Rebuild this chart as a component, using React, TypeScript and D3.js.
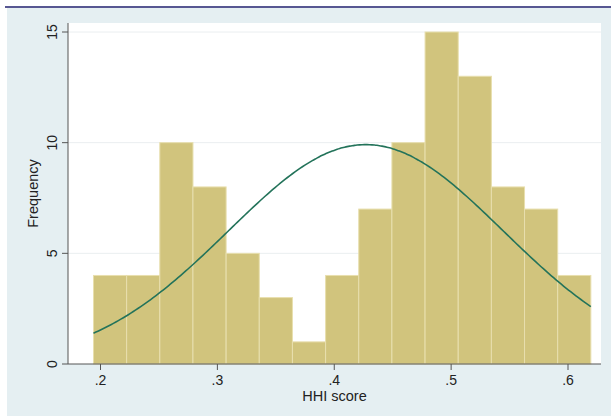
import React from "react";
import * as d3 from "d3";

const binStart = 0.194;
const binWidth = 0.02837;
const frequencies = [4, 4, 10, 8, 5, 3, 1, 4, 7, 10, 15, 13, 8, 7, 4];
const xTicks = [0.2, 0.3, 0.4, 0.5, 0.6];
const xTickLabels = [".2", ".3", ".4", ".5", ".6"];
const yTicks = [0, 5, 10, 15];
const normalMean = 0.427;
const normalSd = 0.1176;

export default function App() {
  const W = 611, H = 416;
  const x = d3.scaleLinear().domain([0.2, 0.6]).range([100.5, 568]);
  const y = d3.scaleLinear().domain([0, 15]).range([364, 32]);
  const plotL = 68, plotR = 601, plotT = 23, plotB = 364;
  const n = d3.sum(frequencies);
  const binEnd = binStart + binWidth * frequencies.length;
  const scale = (n * binWidth) / (normalSd * Math.sqrt(2 * Math.PI));
  const pts = d3.range(0, 201).map((i) => {
    const v = binStart + ((binEnd - binStart) * i) / 200;
    const z = (v - normalMean) / normalSd;
    return [v, scale * Math.exp(-0.5 * z * z)] as [number, number];
  });
  const line = d3.line<[number, number]>().x((d) => x(d[0])).y((d) => y(d[1])).curve(d3.curveBasis);
  const font = "Liberation Sans, Arial, sans-serif";
  return (
    <svg width={W} height={H} style={{ position: "absolute", left: 0, top: 0 }}>
      <rect x={0} y={0} width={W} height={H} fill="#ffffff" />
      <rect x={7} y={8} width={W - 7} height={H - 8} fill="#e5eff2" />
      <line x1={5} x2={W} y1={7} y2={7} stroke="#1f1f6e" strokeWidth={1.6} />
      <rect x={plotL} y={plotT} width={plotR - plotL} height={plotB - plotT} fill="#ffffff" />
      {yTicks.filter((t) => t > 0).map((t) => (
        <line key={"g" + t} x1={plotL} x2={plotR} y1={y(t)} y2={y(t)} stroke="#eaeef0" strokeWidth={1} />
      ))}
      {frequencies.map((f, i) => {
        const x0 = x(binStart + i * binWidth);
        const x1 = x(binStart + (i + 1) * binWidth);
        return (
          <rect key={i} x={x0} y={y(f)} width={x1 - x0} height={y(0) - y(f)} fill="#d1c47d" stroke="#e8dfae" strokeWidth={1} />
        );
      })}
      <path d={line(pts) || ""} fill="none" stroke="#23735a" strokeWidth={1.6} />
      <line x1={plotL} x2={plotL} y1={plotT} y2={plotB} stroke="#555" strokeWidth={1} />
      <line x1={plotL} x2={plotR} y1={plotB} y2={plotB} stroke="#555" strokeWidth={1} />
      {yTicks.map((t) => (
        <g key={"y" + t}>
          <line x1={plotL - 6} x2={plotL} y1={y(t)} y2={y(t)} stroke="#555" />
          <text transform={`translate(${plotL - 11},${y(t)}) rotate(-90)`} textAnchor="middle" fontFamily={font} fontSize={14} fill="#222">{t}</text>
        </g>
      ))}
      {xTicks.map((t, i) => (
        <g key={"x" + t}>
          <line x1={x(t)} x2={x(t)} y1={plotB} y2={plotB + 6} stroke="#555" />
          <text x={x(t)} y={plotB + 21} textAnchor="middle" fontFamily={font} fontSize={14} fill="#222">{xTickLabels[i]}</text>
        </g>
      ))}
      <text x={(plotL + plotR) / 2} y={plotB + 37} textAnchor="middle" fontFamily={font} fontSize={14.5} fill="#222">HHI score</text>
      <text transform={`translate(38,${(plotT + plotB) / 2}) rotate(-90)`} textAnchor="middle" fontFamily={font} fontSize={14.5} fill="#222">Frequency</text>
    </svg>
  );
}
